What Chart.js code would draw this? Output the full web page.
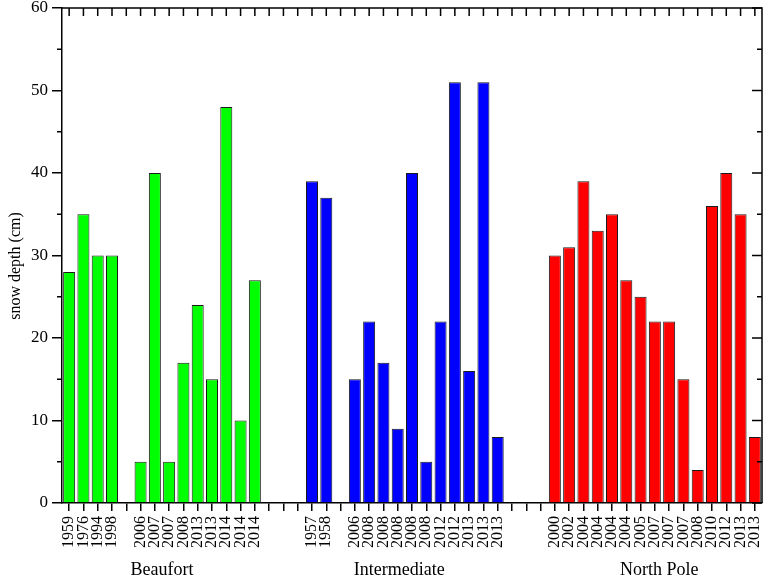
<!DOCTYPE html>
<html>
<head>
<meta charset="utf-8">
<script src="https://cdn.jsdelivr.net/npm/chart.js@4.4.1/dist/chart.umd.min.js"></script>
<style>
    html, body { margin: 0; padding: 0; background: #fff; }
    #wrap { width: 764px; height: 578px; }
</style>
</head>
<body>
<div id="wrap"><canvas id="snowDepthChart" width="764" height="578"></canvas></div>
<script>
"use strict";

/** DATA */

// Survey years per region ('' = empty slot between sub groups)
const beaufortYears = ['1959', '1976', '1994', '1998', '', '2006', '2007', '2007', '2008', '2013', '2013', '2014', '2014', '2014'];
const beaufortDepth = [28, 35, 30, 30, null, 5, 40, 5, 17, 24, 15, 48, 10, 27];

const intermediateYears = ['1957', '1958', '', '2006', '2008', '2008', '2008', '2008', '2008', '2012', '2012', '2013', '2013', '2013'];
const intermediateDepth = [39, 37, null, 15, 22, 17, 9, 40, 5, 22, 51, 16, 51, 8];

const northPoleYears = ['2000', '2002', '2004', '2004', '2004', '2004', '2005', '2007', '2007', '2007', '2008', '2010', '2012', '2013', '2013'];
const northPoleDepth = [30, 31, 39, 33, 35, 27, 25, 22, 22, 15, 4, 36, 40, 35, 8];

// Region names and the category index they sit under
const groupNames = ['Beaufort', 'Intermediate', 'North Pole'];
const groupLabelAt = [6.5, 23.1, 41.3];

// Y axis ticks
const yMajorTicks = [0, 10, 20, 30, 40, 50, 60];
const yMinorTicks = [5, 15, 25, 35, 45, 55];


/** BUILD SLOTS */

const GAP = 3;
const gapLabels = Array(GAP).fill('');
const gapValues = Array(GAP).fill(null);

const labels = [...beaufortYears, ...gapLabels, ...intermediateYears, ...gapLabels, ...northPoleYears];
const values = [...beaufortDepth, ...gapValues, ...intermediateDepth, ...gapValues, ...northPoleDepth];
const colors = [
    ...beaufortYears.map(() => '#00ff00'),
    ...gapLabels.map(() => '#ffffff'),
    ...intermediateYears.map(() => '#0000ff'),
    ...gapLabels.map(() => '#ffffff'),
    ...northPoleYears.map(() => '#ff0000')
];

const SERIF = '"Liberation Serif", "Times New Roman", serif';


/** FRAME, INNER TICKS AND TEXTS */

const frameTicks = {
    id: 'frameTicks',
    afterDraw(chart) {
        const { ctx, chartArea: a, scales: { x, y } } = chart;
        ctx.save();
        ctx.strokeStyle = '#000';
        ctx.lineWidth = 1.5;

        // Top and right border
        ctx.beginPath();
        ctx.moveTo(a.left, a.top);
        ctx.lineTo(a.right, a.top);
        ctx.lineTo(a.right, a.bottom);
        ctx.stroke();

        ctx.beginPath();
        // Top ticks (inward)
        labels.forEach((_, i) => {
            const px = x.getPixelForValue(i);
            ctx.moveTo(px, a.top);
            ctx.lineTo(px, a.top + 8);
        });
        // Right ticks (inward)
        yMajorTicks.forEach(v => {
            const py = y.getPixelForValue(v);
            ctx.moveTo(a.right, py);
            ctx.lineTo(a.right - 10, py);
        });
        // Minor ticks on both sides
        yMinorTicks.forEach(v => {
            const py = y.getPixelForValue(v);
            ctx.moveTo(a.right, py);
            ctx.lineTo(a.right - 5, py);
            ctx.moveTo(a.left, py);
            ctx.lineTo(a.left - 5, py);
        });
        ctx.stroke();

        ctx.fillStyle = '#000';

        // Region names
        ctx.font = `18px ${ SERIF }`;
        ctx.textAlign = 'center';
        ctx.textBaseline = 'alphabetic';
        groupNames.forEach((name, i) => ctx.fillText(name, x.getPixelForValue(groupLabelAt[i]), 575));

        // Y axis title
        ctx.translate(16, 266);
        ctx.rotate(-Math.PI / 2);
        ctx.font = `16px ${ SERIF }`;
        ctx.textBaseline = 'middle';
        ctx.fillText('snow depth (cm)', 0, 0);
        ctx.restore();
    }
};


/** INITIALIZE CHART */

const snowDepthChart = new Chart(document.getElementById('snowDepthChart').getContext('2d'), {
    type: 'bar',
    data: {
        labels: labels,
        datasets: [{
            label: 'snow depth',
            data: values,
            backgroundColor: colors,
            borderColor: '#1a1a1a',
            borderWidth: 1,
            barPercentage: 0.84,
            categoryPercentage: 1
        }]
    },
    options: {
        responsive: false,
        animation: false,
        devicePixelRatio: 1,
        layout: {
            padding: { top: 8, right: 2, left: 0, bottom: 0 }
        },
        plugins: {
            legend: { display: false },
            tooltip: { enabled: false }
        },
        scales: {
            x: {
                type: 'category',
                offset: true,
                grid: {
                    offset: false,
                    drawOnChartArea: false,
                    color: '#000',
                    lineWidth: 1.5,
                    tickLength: 8
                },
                border: { color: '#000', width: 1.5 },
                ticks: {
                    autoSkip: false,
                    minRotation: 90,
                    maxRotation: 90,
                    padding: 5,
                    color: '#000',
                    font: { family: SERIF, size: 16 }
                },
                afterFit: scale => {
                    scale.height = 75;
                    scale.paddingLeft = 0;
                    scale.paddingRight = 0;
                }
            },
            y: {
                min: 0,
                max: 60,
                grid: {
                    drawOnChartArea: false,
                    color: '#000',
                    lineWidth: 1.5,
                    tickLength: 10
                },
                border: { color: '#000', width: 1.5 },
                ticks: {
                    stepSize: 10,
                    padding: 4,
                    color: '#000',
                    font: { family: SERIF, size: 17 }
                },
                afterFit: scale => {
                    scale.width = 62;
                    scale.paddingTop = 0;
                    scale.paddingBottom = 0;
                }
            }
        }
    },
    plugins: [frameTicks]
});
</script>
</body>
</html>
